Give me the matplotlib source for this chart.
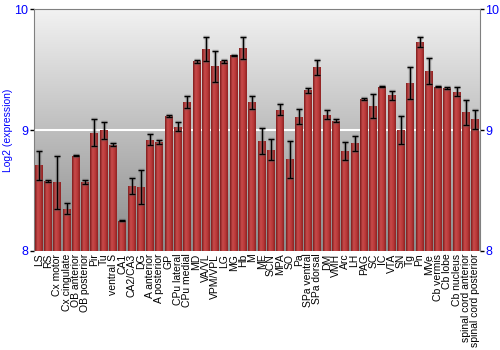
import numpy as np
import matplotlib
matplotlib.use("Agg")
import matplotlib.pyplot as plt
from matplotlib.colors import LinearSegmentedColormap

plt.rcParams['font.family'] = ["Liberation Sans", "DejaVu Sans"]

# brain regions
regions = [
    "LS", "RS", "Cx motor", "Cx cingulate", "OB anterior", "OB posterior",
    "Pir", "Tu", "ventral S", "CA1", "CA2/CA3", "DG", "A anterior",
    "A posterior", "GP", "CPu lateral", "CPu medial", "MD", "VA/VL",
    "VPM/VPL", "LG", "MG", "Hb", "M", "ME", "SCN", "MPA", "SO", "Pa",
    "SPa ventral", "SPa dorsal", "DM", "VMH", "Arc", "LH", "PAG", "SC", "IC",
    "VTA", "SN", "Tg", "Pn", "MVe", "Cb vermis", "Cb lobe", "Cb nucleus",
    "spinal cord anterior", "spinal cord posterior",
]
# log2 expression
expr = [
    8.71, 8.58, 8.57, 8.35, 8.79, 8.57, 8.98, 9.00, 8.88, 8.25, 8.54, 8.53,
    8.92, 8.90, 9.12, 9.03, 9.23, 9.57, 9.67, 9.53, 9.57, 9.62, 9.68, 9.23,
    8.91, 8.84, 9.17, 8.76, 9.11, 9.33, 9.52, 9.13, 9.08, 8.83, 8.89, 9.26,
    9.20, 9.36, 9.29, 9.00, 9.39, 9.73, 9.49, 9.36, 9.35, 9.32, 9.15, 9.09,
]
# error (+/-)
err = [
    0.12, 0.01, 0.22, 0.045, 0.003, 0.015, 0.11, 0.07, 0.01, 0.005, 0.066, 0.14,
    0.045, 0.015, 0.01, 0.04, 0.05, 0.015, 0.10, 0.13, 0.01, 0.005, 0.094, 0.055,
    0.11, 0.088, 0.044, 0.154, 0.062, 0.02, 0.062, 0.04, 0.01, 0.073, 0.062, 0.01,
    0.096, 0.005, 0.036, 0.116, 0.132, 0.04, 0.107, 0.005, 0.01, 0.037, 0.104, 0.077,
]
y_ticks = [8, 9, 10]

BLUE = "#0000ff"
px = 1 / 100
fig = plt.figure(figsize=(500 * px, 350 * px), dpi=100)
ax = fig.add_axes([0.068, 0.283, 0.892, 0.690])

n = len(regions)
x = np.arange(n)

# gray vertical gradient background
bg = LinearSegmentedColormap.from_list("bg", ["#8a8a8a", "#f2f2f2"])
ax.imshow(np.linspace(0, 1, 256).reshape(-1, 1), cmap=bg, aspect="auto",
          extent=(-0.5, n - 0.5, 8, 10), origin="lower", zorder=0)
ax.axhline(9, color="white", linewidth=1.5, zorder=1)

# bars with horizontal shading
bar_cmap = LinearSegmentedColormap.from_list(
    "bar", ["#7e1c1c", "#c84a4a", "#bb3a3a", "#8e2222"])
bars = ax.bar(x, [v - 8 for v in expr], bottom=8, width=0.86,
              color="#b03232", edgecolor="none", zorder=2)
grad = np.linspace(0, 1, 64).reshape(1, -1)
for b in bars:
    bx, by = b.get_x(), b.get_y()
    im = ax.imshow(grad, cmap=bar_cmap, aspect="auto", zorder=3,
                   extent=(bx, bx + b.get_width(), by, by + b.get_height()))
    im.set_clip_path(b)

# error bars: soft halo + black line
ax.errorbar(x, expr, yerr=err, fmt="none", ecolor="#606060", elinewidth=2.5,
            capsize=2.5, capthick=2.5, alpha=0.45, zorder=4)
ax.errorbar(x, expr, yerr=err, fmt="none", ecolor="black", elinewidth=0.9,
            capsize=2, capthick=0.9, zorder=5)
ax.set_xlim(-0.5, n - 0.5)
ax.set_ylim(8, 10)

ax.set_xticks(x)
ax.set_xticklabels(regions, rotation=90, fontsize=7.5, linespacing=0.9)
ax.tick_params(axis="x", length=0, pad=2)
ax.set_yticks(y_ticks)
ax.set_yticklabels([str(t) for t in y_ticks])
ax.tick_params(axis="y", colors="black", labelcolor=BLUE, labelsize=9,
               length=3, width=1, pad=1, left=True, right=True,
               labelright=True, direction="out")
ax.set_ylabel("Log2 (expression)", color=BLUE, fontsize=7.5)
ax.yaxis.set_label_coords(-0.047, 0.5)

for side in ("left", "top", "right"):
    ax.spines[side].set_color("#808080")
ax.spines["bottom"].set_visible(False)

fig.savefig("out.png", dpi=100)
